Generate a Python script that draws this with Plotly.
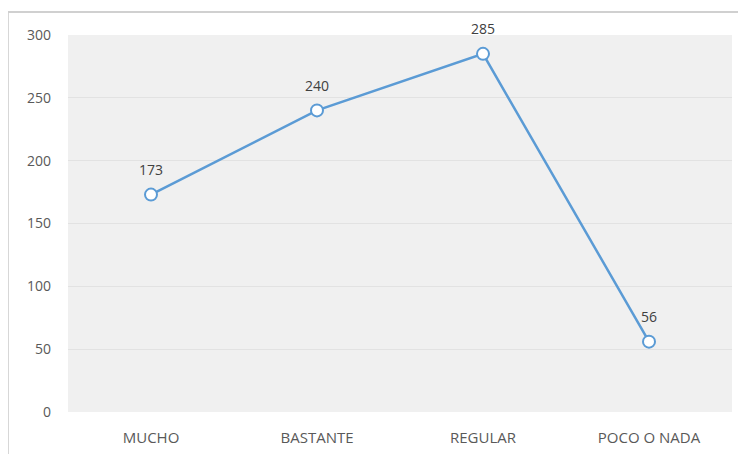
import plotly.graph_objects as go

categories = ["MUCHO", "BASTANTE", "REGULAR", "POCO O NADA"]
values = [173, 240, 285, 56]
y_ticks = [0, 50, 100, 150, 200, 250, 300]

fig = go.Figure()
fig.add_trace(go.Scatter(
    x=categories, y=values, mode="lines+markers",
    line=dict(color="#5b9bd5", width=2.5),
    marker=dict(symbol="circle", size=12, color="white", line=dict(color="#5b9bd5", width=2)),
    cliponaxis=False,
))
for c, v in zip(categories, values):
    fig.add_annotation(x=c, y=v, text=str(v), showarrow=False, yshift=25,
                       font=dict(family="Open Sans, sans-serif", size=14, color="#404040"))

fig.update_layout(
    width=738, height=446,
    margin=dict(l=60, r=14, t=27, b=42),
    paper_bgcolor="white", plot_bgcolor="#f0f0f0",
    showlegend=False,
    font=dict(family="Open Sans, sans-serif", size=14, color="#595959"),
    xaxis=dict(showgrid=False, zeroline=False, showline=False, ticks="",
               range=[-0.5, 3.5], ticklabelstandoff=15, automargin=False,
               tickfont=dict(size=15, color="#595959")),
    yaxis=dict(range=[0, 300], tickvals=y_ticks, showgrid=True, gridcolor="#e2e2e2",
               zeroline=False, showline=False, ticks="", ticklabelstandoff=16,
               automargin=False,
               tickfont=dict(size=14, color="#595959")),
    shapes=[
        dict(type="line", xref="paper", yref="paper", x0=-0.0906, x1=1.1, y0=1.061, y1=1.061,
             line=dict(color="#d0d0d0", width=2)),
        dict(type="line", xref="paper", yref="paper", x0=-0.0906, x1=-0.0906, y0=1.061, y1=-0.2,
             line=dict(color="#d0d0d0", width=2)),
    ],
)

fig.write_html("out.html")
